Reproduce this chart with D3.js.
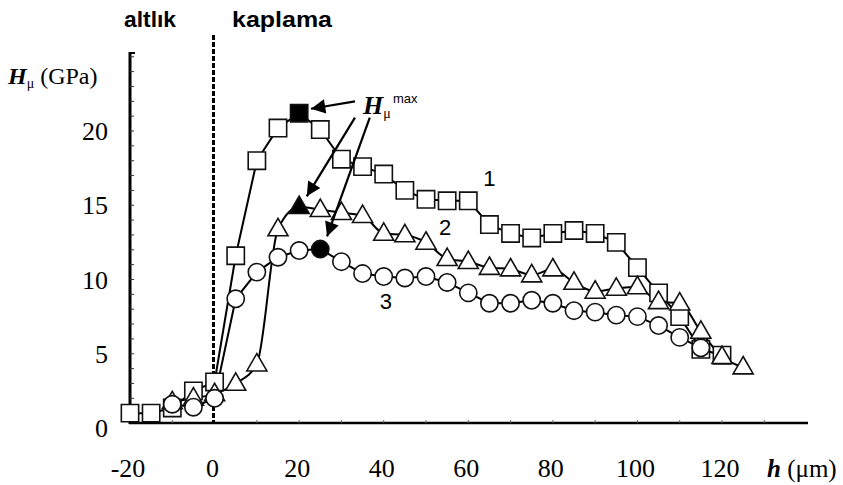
<!DOCTYPE html>
<html>
<head>
<meta charset="utf-8">
<script src="https://cdn.jsdelivr.net/npm/d3@7"></script>
<style>
  html, body { margin: 0; padding: 0; background: #fff; }
  svg { display: block; }
</style>
</head>
<body>
<div id="chart"></div>
<script>
// ---- data ----
const xTicks = [-20, 0, 20, 40, 60, 80, 100, 120];
const yTicks = [0, 5, 10, 15, 20];

// Series 1 (squares)
const h1 = [-20, -15, -10, -5, 0, 5, 10, 15, 20, 25, 30, 35, 40, 45, 50, 55, 60, 65, 70, 75, 80, 85, 90, 95, 100, 105, 110, 115, 120];
const v1 = [1.0, 1.0, 1.35, 2.5, 3.1, 11.6, 18.0, 20.2, 21.2, 20.1, 18.1, 17.6, 17.1, 16.0, 15.4, 15.3, 15.3, 13.7, 13.1, 12.8, 13.1, 13.3, 13.1, 12.5, 10.8, 9.1, 7.5, 5.3, 4.9];
const max1 = 20; // filled marker

// Series 2 (triangles)
const h2 = [-10, -5, 0, 5, 10, 15, 20, 25, 30, 35, 40, 45, 50, 55, 60, 65, 70, 75, 80, 85, 90, 95, 100, 105, 110, 115, 120, 125];
const v2 = [1.75, 2.0, 2.3, 3.0, 4.3, 13.4, 14.9, 14.7, 14.5, 14.3, 13.1, 13.0, 12.5, 11.4, 11.2, 10.8, 10.7, 10.3, 10.7, 9.8, 9.2, 9.4, 9.5, 8.5, 8.4, 6.5, 4.8, 4.1];
const max2 = 20;

// Series 3 (circles)
const h3 = [-10, -5, 0, 5, 10, 15, 20, 25, 30, 35, 40, 45, 50, 55, 60, 65, 70, 75, 80, 85, 90, 95, 100, 105, 110, 115];
const v3 = [1.6, 1.4, 2.0, 8.7, 10.5, 11.5, 11.95, 12.05, 11.2, 10.4, 10.2, 10.1, 10.2, 9.8, 9.1, 8.4, 8.4, 8.6, 8.4, 7.9, 7.8, 7.6, 7.5, 6.9, 6.1, 5.4];
const max3 = 25;

const seriesLabels = ["1", "2", "3"];
const seriesLabelPos = [[65, 16.8], [54.5, 13.5], [40.5, 8.5]];

// annotation arrows [fromH, fromV, toH, toV]
const arrows = [
  [33.2, 22.0, 22.8, 21.5],
  [33.2, 20.9, 21.8, 15.6],
  [36.7, 20.9, 26.6, 12.9]
];

// ---- drawing ----
const W = 843, H = 485;
const svg = d3.select("#chart").append("svg").attr("width", W).attr("height", H);

const x = d3.scaleLinear().domain([-20, 120]).range([130, 722]);
const y = d3.scaleLinear().domain([0, 20]).range([428, 131]);

const serif = "'Liberation Serif', 'Times New Roman', serif";
const sans = "'Liberation Sans', Arial, sans-serif";

const axisY = 423;      // x-axis line position
const yAxisX = 130;     // y-axis line position

// y axis
svg.append("line").attr("x1", yAxisX).attr("x2", yAxisX).attr("y1", 52).attr("y2", axisY + 1)
  .attr("stroke", "#000").attr("stroke-width", 3);
svg.append("line").attr("x1", yAxisX).attr("x2", yAxisX + 5).attr("y1", 53).attr("y2", 53)
  .attr("stroke", "#000").attr("stroke-width", 2);
// minor ticks on y axis (every 1 GPa)
const yMinor = d3.range(1, 26);
svg.append("g").selectAll("line").data(yMinor).join("line")
  .attr("x1", yAxisX).attr("x2", yAxisX + 4)
  .attr("y1", d => y(d)).attr("y2", d => y(d))
  .attr("stroke", "#333").attr("stroke-width", 1);

// x axis
svg.append("line").attr("x1", yAxisX - 1).attr("x2", 808).attr("y1", axisY).attr("y2", axisY)
  .attr("stroke", "#000").attr("stroke-width", 2.5);
const xMinor = d3.range(-10, 140, 10);
svg.append("g").selectAll("line").data(xMinor).join("line")
  .attr("x1", d => x(d)).attr("x2", d => x(d))
  .attr("y1", axisY).attr("y2", axisY - 3)
  .attr("stroke", "#666").attr("stroke-width", 1);

// tick labels
svg.append("g").selectAll("text").data(yTicks).join("text")
  .attr("x", 108).attr("y", d => y(d))
  .attr("dy", "0.35em")
  .attr("text-anchor", "end")
  .attr("font-family", serif).attr("font-size", 26)
  .text(d => d);

svg.append("g").selectAll("text").data(xTicks).join("text")
  .attr("x", d => x(d) - 2).attr("y", 468)
  .attr("dy", "0.35em")
  .attr("text-anchor", "middle")
  .attr("font-family", serif).attr("font-size", 26)
  .text(d => d);

// axis titles
const yt = svg.append("text").attr("x", 8).attr("y", 84)
  .attr("font-family", serif).attr("font-size", 24);
yt.append("tspan").attr("font-family", serif).attr("font-style", "italic").attr("font-weight", "bold").text("H");
yt.append("tspan").attr("font-family", serif).attr("font-size", 14).attr("dy", 4).text("μ");
yt.append("tspan").attr("font-family", serif).attr("dy", -4).text(" (GPa)");

const xt = svg.append("text").attr("x", 767).attr("y", 468).attr("dy", "0.35em")
  .attr("font-family", serif).attr("font-size", 25);
xt.append("tspan").attr("font-family", serif).attr("font-style", "italic").attr("font-weight", "bold").text("h");
xt.append("tspan").attr("font-family", serif).text(" (μm)");

// region labels
svg.append("text").attr("x", 124).attr("y", 27)
  .attr("font-family", sans).attr("font-size", 22).attr("font-weight", "bold")
  .attr("textLength", 52).attr("lengthAdjust", "spacingAndGlyphs")
  .text("altlık");
svg.append("text").attr("x", 232).attr("y", 27)
  .attr("font-family", sans).attr("font-size", 22).attr("font-weight", "bold")
  .attr("textLength", 100).attr("lengthAdjust", "spacingAndGlyphs")
  .text("kaplama");

// dashed boundary line at h = 0
svg.append("line").attr("x1", Math.round(x(0)) - 1.5).attr("x2", Math.round(x(0)) - 1.5).attr("y1", 35).attr("y2", axisY)
  .attr("stroke", "#000").attr("stroke-width", 3).attr("stroke-dasharray", "5,2");

// series lines
const lineLin = d3.line().x(d => x(d[0])).y(d => y(d[1]));
const lineCurve = d3.line().x(d => x(d[0])).y(d => y(d[1])).curve(d3.curveMonotoneX);
const series = [
  { h: h1, v: v1, shape: "square", max: max1, gen: lineLin },
  { h: h2, v: v2, shape: "triangle", max: max2, gen: lineCurve },
  { h: h3, v: v3, shape: "circle", max: max3, gen: lineLin }
];
series.forEach(s => {
  const pts = s.h.map((hh, i) => [hh, s.v[i]]);
  svg.append("path").attr("d", s.gen(pts))
    .attr("fill", "none").attr("stroke", "#000").attr("stroke-width", 2);
});

// markers
const symSize = { square: 300, triangle: 175, circle: 235 };
const symType = { square: d3.symbolSquare, triangle: d3.symbolTriangle, circle: d3.symbolCircle };
series.forEach(s => {
  const pts = s.h.map((hh, i) => [hh, s.v[i]]);
  svg.append("g").selectAll("path").data(pts).join("path")
    .attr("transform", d => `translate(${x(d[0])},${y(d[1]) + (s.shape === "triangle" ? 1 : 0)})`)
    .attr("d", d3.symbol().type(symType[s.shape]).size(symSize[s.shape]))
    .attr("fill", d => d[0] === s.max ? "#000" : "#fff")
    .attr("stroke", "#111").attr("stroke-width", 1.6);
});

// series number labels
svg.append("g").selectAll("text").data(seriesLabels).join("text")
  .attr("x", (d, i) => x(seriesLabelPos[i][0]))
  .attr("y", (d, i) => y(seriesLabelPos[i][1]))
  .attr("dy", "0.35em").attr("text-anchor", "middle")
  .attr("font-family", sans).attr("font-size", 22)
  .text(d => d);

// H_mu^max annotation
const hm = svg.append("text").attr("x", 363).attr("y", 114)
  .attr("font-family", serif).attr("font-size", 26);
hm.append("tspan").attr("font-family", serif).attr("font-style", "italic").attr("font-weight", "bold").text("H");
hm.append("tspan").attr("font-family", serif).attr("font-size", 14).attr("dy", 4).text("μ");
svg.append("text").attr("x", 393).attr("y", 103)
  .attr("font-family", sans).attr("font-size", 13).text("max");

// arrows
const defs = svg.append("defs");
defs.append("marker").attr("id", "ah").attr("viewBox", "0 0 10 10")
  .attr("refX", 10).attr("refY", 5).attr("markerWidth", 8).attr("markerHeight", 6.5)
  .attr("markerUnits", "strokeWidth").attr("orient", "auto")
  .append("path").attr("d", "M0,0 L10,5 L0,10 Z").attr("fill", "#000");
svg.append("g").selectAll("line").data(arrows).join("line")
  .attr("x1", d => x(d[0])).attr("y1", d => y(d[1]))
  .attr("x2", d => x(d[2])).attr("y2", d => y(d[3]))
  .attr("stroke", "#000").attr("stroke-width", 2.2)
  .attr("marker-end", "url(#ah)");
</script>
</body>
</html>
